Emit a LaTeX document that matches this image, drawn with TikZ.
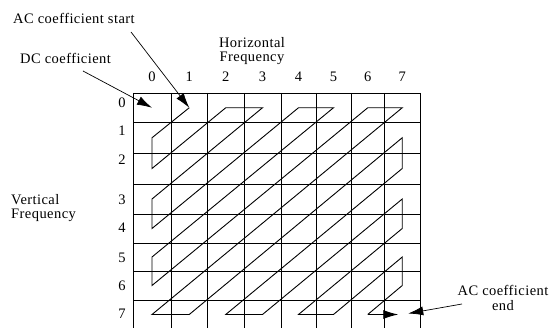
\documentclass[tikz,border=0pt]{standalone}
\usepackage{fontspec}
\setmainfont[LetterSpace=3]{Liberation Serif}
\usetikzlibrary{arrows.meta}
\begin{document}
\begin{tikzpicture}[x=1pt,y=-1pt,
  lbl/.style={font=\fontsize{14.5}{14.5}\selectfont, inner sep=0pt},
  gridline/.style={line width=0.8pt},
  zz/.style={line width=0.9pt, line join=miter},
  tip/.style={-{Latex[length=15pt,width=9pt]}},
  leader/.style={line width=0.7pt, tip},
]
\useasboundingbox (0,0) rectangle (550,328);
% grid
\foreach \gx in {133,171,207.5,244,281,316,351,384.5,420}
  \draw[gridline] (\gx,93) -- (\gx,328);
\foreach \gy in {93,122.5,153,184,214,243,271,300}
  \draw[gridline] (133,\gy) -- (420,\gy);
% cell centres
\foreach \yc [count=\r from 0] in {107.75,137.75,168.5,199,228.5,257,285.5,314.5}{
  \foreach \xc [count=\c from 0] in {152,189.25,225.75,262.5,298.5,333.5,367.75,402.25}{
    \coordinate (p-\r-\c) at (\xc,\yc);
  }
}
% column labels
\foreach \xc [count=\c from 0] in {152,189.25,225.75,262.5,298.5,333.5,367.75,402.25}
  \node[lbl] (col\c) at (\xc,77) {\c};
% row labels
\foreach \yc [count=\r from 0] in {103,131,160,200,228,258,286,314}
  \node[lbl] (row\r) at (122,\yc) {\r};
% titles
\node[lbl, align=center] (hf) at (252,51) {Horizontal\\Frequency};
\node[lbl, align=left, anchor=west] (vf) at (11,208) {Vertical\\Frequency};
\node[lbl, anchor=west] (acs) at (13,18) {AC coefficient start};
\node[lbl, anchor=west] (dc) at (20,58) {DC coefficient};
\node[lbl, align=center] (ace) at (503,298) {AC coefficient\\end};
% zigzag
\draw[zz] (p-0-1) -- (p-1-0) -- (p-2-0) -- (p-0-2) -- (p-0-3) -- (p-3-0) -- (p-4-0)
  -- (p-0-4) -- (p-0-5) -- (p-5-0) -- (p-6-0) -- (p-0-6) -- (p-0-7) -- (p-7-0)
  -- (p-7-1) -- (p-1-7) -- (p-2-7) -- (p-7-2) -- (p-7-3) -- (p-3-7) -- (p-4-7)
  -- (p-7-4) -- (p-7-5) -- (p-5-7) -- (p-6-7) -- (p-7-6);
\draw[zz, tip] (p-7-6) -- ([xshift=-4pt]p-7-7);
% leaders
\coordinate (acs-from) at (131,32);
\coordinate (dc-from) at (83,71);
\coordinate (ace-from) at (462,304);
\draw[leader] (acs-from) -- (p-0-1);
\draw[leader] (dc-from) -- (p-0-0);
\draw[leader] (ace-from) -- ([xshift=6pt,yshift=1pt]p-7-7);
\end{tikzpicture}
\end{document}
